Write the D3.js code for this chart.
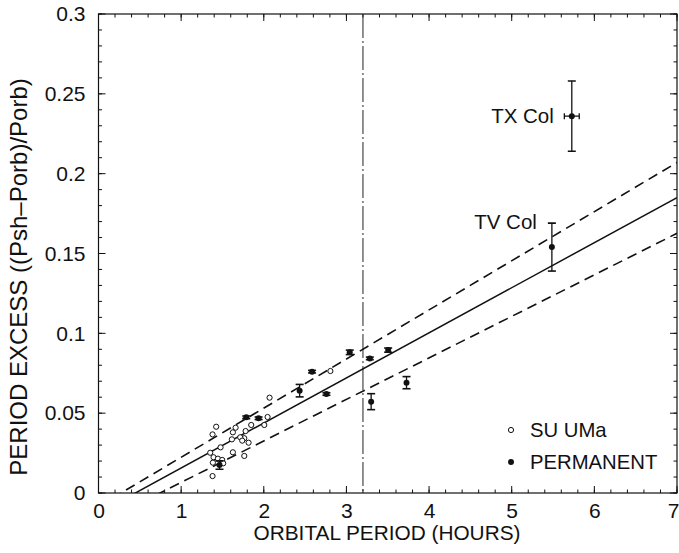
<!DOCTYPE html>
<html>
<head>
<meta charset="utf-8">
<script src="https://cdn.jsdelivr.net/npm/d3@7"></script>
<style>
  html, body { margin: 0; padding: 0; background: #fff; }
  svg text { font-family: "Liberation Sans", Arial, Helvetica, sans-serif; fill: #111; }
</style>
</head>
<body>
<svg id="chart" width="679" height="553"></svg>
<script>
// ---- data ----
const suUmaPeriod = [2.07, 2.046, 2.006, 1.848, 1.78, 1.764, 1.816, 1.715, 1.739, 1.659, 1.626, 1.614,
                     1.764, 1.626, 1.477, 1.424, 1.38, 1.352, 1.392, 1.445, 1.497, 1.384, 1.509, 1.38, 2.806];
const suUmaExcess = [0.0597, 0.0476, 0.0426, 0.0426, 0.0388, 0.0343, 0.0315, 0.0349, 0.0328, 0.0409, 0.038, 0.0336,
                     0.0232, 0.0255, 0.0286, 0.0415, 0.0367, 0.0252, 0.0224, 0.0215, 0.0207, 0.019, 0.0186, 0.0106, 0.0764];

const permPeriod = [1.464, 1.788, 1.937, 2.434, 2.584, 2.758, 3.04, 3.283, 3.505, 3.299, 3.727, 5.486, 5.727];
const permExcess = [0.0175, 0.0474, 0.0468, 0.0641, 0.0760, 0.0620, 0.0881, 0.0843, 0.0895, 0.0572, 0.0691, 0.154, 0.236];
const permErrY   = [0.0026, 0.0008, 0.0008, 0.0039, 0.0008, 0.0008, 0.0014, 0.0008, 0.0013, 0.005, 0.0038, 0.015, 0.022];
const permErrX   = [0, 0, 0, 0, 0, 0, 0, 0, 0, 0, 0, 0, 0.09];

const starNames  = ["TX Col", "TV Col"];
const starIndex  = [12, 11];
const starLabelY = [0.236, 0.1695];

// fit lines: [slope, zero-crossing period]
const fitNames = ["upper", "mean", "lower"];
const fitSlope = [0.03077, 0.02823, 0.0260];
const fitZero  = [0.273, 0.446, 0.745];

const gapPeriod = 3.2;

const xTicks = [0, 1, 2, 3, 4, 5, 6, 7];
const yTicks = [0, 0.05, 0.1, 0.15, 0.2, 0.25, 0.3];
const yTickLabels = ["0", "0.05", "0.1", "0.15", "0.2", "0.25", "0.3"];

const legendLabels = ["SU UMa", "PERMANENT"];
const xTitle = "ORBITAL PERIOD (HOURS)";
const yTitle = "PERIOD EXCESS ((Psh\u2013Porb)/Porb)";

// ---- layout ----
const L = 98.5, R = 677, T = 14, B = 493;
const svg = d3.select("#chart");
const x = d3.scaleLinear().domain([0, 7]).range([L, R]);
const y = d3.scaleLinear().domain([0, 0.3]).range([B, T]);

const plot = svg.append("g");
svg.append("defs").append("clipPath").attr("id", "clip")
  .append("rect").attr("x", L).attr("y", T).attr("width", R - L).attr("height", B - T);

// frame
plot.append("rect").attr("x", L).attr("y", T).attr("width", R - L).attr("height", B - T)
  .attr("fill", "none").attr("stroke", "#111").attr("stroke-width", 1.2);

// ticks (inward, all four sides)
const xMinor = d3.range(0, 7.0001, 0.2);
const yMinor = d3.range(0, 0.3001, 0.01);
function tickSide(scale, vals, len, side) {
  vals.forEach(v => {
    const p = scale(v);
    let ln;
    if (side === "bottom") ln = [p, B, p, B - len];
    if (side === "top") ln = [p, T, p, T + len];
    if (side === "left") ln = [L, p, L + len, p];
    if (side === "right") ln = [R, p, R - len, p];
    plot.append("line").attr("x1", ln[0]).attr("y1", ln[1]).attr("x2", ln[2]).attr("y2", ln[3])
      .attr("stroke", "#111").attr("stroke-width", 1);
  });
}
tickSide(x, xMinor, 3.5, "bottom"); tickSide(x, xMinor, 3.5, "top");
tickSide(x, xTicks, 7, "bottom"); tickSide(x, xTicks, 7, "top");
tickSide(y, yMinor, 3.5, "left"); tickSide(y, yMinor, 3.5, "right");
tickSide(y, yTicks, 7, "left"); tickSide(y, yTicks, 7, "right");

// tick labels via axis generators (ticks hidden)
const xAxis = d3.axisBottom(x).tickValues(xTicks).tickSize(0).tickPadding(9).tickFormat(d3.format("d"));
const gx = svg.append("g").attr("transform", `translate(0,${B})`).call(xAxis);
gx.select(".domain").remove();
gx.selectAll("text").attr("font-size", 21).attr("dy", "0.75em").attr("fill", "#111");
gx.selectAll("text").filter(d => d === 7).attr("text-anchor", "end").attr("x", 679 - x(7));

const yAxis = d3.axisLeft(y).tickValues(yTicks).tickSize(0).tickPadding(13)
  .tickFormat((d, i) => yTickLabels[i]);
const gy = svg.append("g").attr("transform", `translate(${L},0)`).call(yAxis);
gy.select(".domain").remove();
gy.selectAll("text").attr("font-size", 21).attr("fill", "#111");

// axis titles
svg.append("text").attr("x", 387).attr("y", 540).attr("text-anchor", "middle")
  .attr("font-size", 20.8).text(xTitle);
svg.append("text").attr("transform", `translate(27,277) rotate(-90)`)
  .attr("text-anchor", "middle").attr("font-size", 24).text(yTitle);

const g = svg.append("g").attr("clip-path", "url(#clip)");

// vertical period gap line
g.append("line").attr("x1", x(gapPeriod)).attr("x2", x(gapPeriod)).attr("y1", T).attr("y2", B)
  .attr("stroke", "#222").attr("stroke-width", 1).attr("stroke-dasharray", "24,3,2,3");

// fit lines
const lineGen = d3.line().x(d => x(d[0])).y(d => y(d[1]));
fitNames.forEach((name, i) => {
  const pts = [0, 7].map(p => [p, fitSlope[i] * (p - fitZero[i])]);
  g.append("path").attr("d", lineGen(pts)).attr("fill", "none").attr("stroke", "#111")
    .attr("stroke-width", name === "mean" ? 1.5 : 1.6)
    .attr("stroke-dasharray", name === "mean" ? null : "10,6");
});

// SU UMa open circles
suUmaPeriod.forEach((p, i) => {
  g.append("circle").attr("cx", x(p)).attr("cy", y(suUmaExcess[i])).attr("r", 2.6)
    .attr("fill", "#fff").attr("stroke", "#111").attr("stroke-width", 1);
});

// permanent superhumpers with error bars
permPeriod.forEach((p, i) => {
  const cx = x(p), cy = y(permExcess[i]);
  const y1 = y(permExcess[i] + permErrY[i]), y2 = y(permExcess[i] - permErrY[i]);
  const cap = 4;
  g.append("line").attr("x1", cx).attr("x2", cx).attr("y1", y1).attr("y2", y2).attr("stroke", "#111").attr("stroke-width", 1.3);
  [y1, y2].forEach(yy => g.append("line").attr("x1", cx - cap).attr("x2", cx + cap).attr("y1", yy).attr("y2", yy)
    .attr("stroke", "#111").attr("stroke-width", 1.6));
  if (permErrX[i] > 0) {
    const xa = x(p - permErrX[i]), xb = x(p + permErrX[i]);
    g.append("line").attr("x1", xa).attr("x2", xb).attr("y1", cy).attr("y2", cy).attr("stroke", "#111").attr("stroke-width", 1.3);
    [xa, xb].forEach(xx => g.append("line").attr("x1", xx).attr("x2", xx).attr("y1", cy - 3).attr("y2", cy + 3)
      .attr("stroke", "#111").attr("stroke-width", 1.3));
  }
  g.append("circle").attr("cx", cx).attr("cy", cy).attr("r", 3).attr("fill", "#111");
});

// star labels
svg.append("text").attr("x", x(permPeriod[starIndex[0]]) - 18).attr("y", y(starLabelY[0]) + 7)
  .attr("text-anchor", "end").attr("font-size", 20.5).text(starNames[0]);
svg.append("text").attr("x", x(permPeriod[starIndex[1]]) - 15).attr("y", y(starLabelY[1]) + 7)
  .attr("text-anchor", "end").attr("font-size", 20.5).text(starNames[1]);

// legend
const lg = svg.append("g");
lg.append("circle").attr("cx", 511).attr("cy", 430).attr("r", 2.6).attr("fill", "#fff").attr("stroke", "#111");
lg.append("text").attr("x", 530).attr("y", 437).attr("font-size", 20.3).text(legendLabels[0]);
lg.append("circle").attr("cx", 511).attr("cy", 462).attr("r", 3).attr("fill", "#111");
lg.append("text").attr("x", 530).attr("y", 469).attr("font-size", 20.3).text(legendLabels[1]);
</script>
</body>
</html>
